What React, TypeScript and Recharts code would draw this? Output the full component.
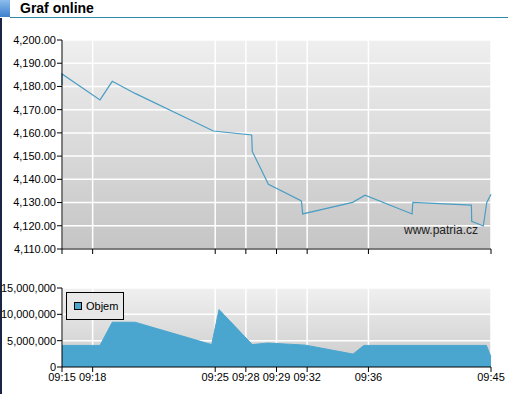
import React from "react";
import {
  ComposedChart,
  Line,
  Area,
  XAxis,
  YAxis,
  CartesianGrid,
} from "recharts";

// x is a slot index along the time axis (ticks are not evenly spaced in minutes)
const tickSlots = [0, 2, 10, 12, 14, 16, 20, 28];
const tickLabels = ["09:15", "09:18", "09:25", "09:28", "09:29", "09:32", "09:36", "09:45"];

const priceSlots = [0, 0, 2.48, 3.28, 4.77, 9.88, 12.38, 12.42, 13.47, 15.6, 15.64, 15.71, 18.97, 19.78, 22.85, 22.9, 26.72, 26.74, 27.5, 27.72, 28];
const priceValues = [4180.6, 4185.4, 4174.2, 4182.2, 4177.0, 4160.8, 4159.1, 4152.0, 4137.9, 4130.8, 4130.0, 4125.1, 4130.1, 4133.2, 4125.1, 4130.1, 4128.9, 4121.9, 4119.9, 4129.9, 4133.6];
const priceTicks = [4110, 4120, 4130, 4140, 4150, 4160, 4170, 4180, 4190, 4200];

const volumeSlots = [0, 2.48, 3.28, 4.77, 9.77, 10.25, 12.42, 13.43, 15.9, 19.0, 19.7, 27.7, 28];
const volumeValues = [4100000, 4100000, 8500000, 8500000, 4250000, 10900000, 4250000, 4550000, 4150000, 2450000, 4100000, 4100000, 1900000];
const volumeTicks = [0, 5000000, 10000000, 15000000];

const priceData = priceSlots.map((slot, i) => ({ slot, price: priceValues[i] }));
const volumeData = volumeSlots.map((slot, i) => ({ slot, objem: volumeValues[i] }));

const font = "'Liberation Sans', Arial, sans-serif";
const tickStyle = { fontSize: 11, fill: "#000", fontFamily: font };
const labelFor = (v: number) => tickLabels[tickSlots.indexOf(v)] ?? "";

function ObjemLegend() {
  return (
    <div
      style={{
        position: "absolute",
        left: 66,
        top: 292,
        width: 56,
        height: 26,
        border: "1px solid #000",
        background: "#e8e8e8",
        display: "flex",
        alignItems: "center",
        fontFamily: font,
        fontSize: 11,
        color: "#000",
      }}
    >
      <span
        style={{
          width: 6,
          height: 6,
          border: "1px solid #000",
          background: "#4aa6cf",
          marginLeft: 7,
          marginRight: 4,
        }}
      />
      Objem
    </div>
  );
}

export default function App() {
  return (
    <div style={{ position: "absolute", left: 0, top: 0, width: 508, height: 394, background: "#fff", overflow: "hidden" }}>
      {/* header */}
      <div style={{ position: "absolute", left: 0, top: 0, width: 10, height: 17, background: "linear-gradient(#8cbcec, #3d80cf)" }} />
      <div style={{ position: "absolute", left: 10, top: 17, width: 498, height: 1, background: "#2f86a9" }} />
      <div style={{ position: "absolute", left: 0, top: 18, width: 2, height: 376, background: "#1b2444" }} />
      <div style={{ position: "absolute", left: 20, top: 0, fontFamily: font, fontWeight: "bold", fontSize: 14, lineHeight: "17px", color: "#000" }}>
        Graf online
      </div>

      {/* price chart */}
      <div style={{ position: "absolute", left: 0, top: 0 }}>
        <ComposedChart width={508} height={260} data={priceData} margin={{ top: 40, right: 17, bottom: 0, left: 0 }}>
          <defs>
            <linearGradient id="priceBg" x1="0" y1="0" x2="0" y2="1">
              <stop offset="0%" stopColor="#efefef" />
              <stop offset="100%" stopColor="#c5c5c5" />
            </linearGradient>
          </defs>
          <CartesianGrid fill="url(#priceBg)" stroke="#fff" strokeWidth={1.5} />
          <XAxis
            dataKey="slot"
            type="number"
            domain={[0, 28]}
            ticks={tickSlots}
            tickFormatter={() => ""}
            height={11}
            tickSize={5}
            axisLine={{ stroke: "#000" }}
            tickLine={{ stroke: "#000" }}
          />
          <YAxis
            type="number"
            domain={[4110, 4200]}
            ticks={priceTicks}
            width={62}
            tickSize={5}
            tickMargin={1}
            tick={tickStyle}
            axisLine={{ stroke: "#000" }}
            tickLine={{ stroke: "#000" }}
            tickFormatter={(v: number) => v.toLocaleString("en-US", { minimumFractionDigits: 2, maximumFractionDigits: 2 })}
          />
          <Line type="linear" dataKey="price" stroke="#4a9dc3" strokeWidth={1.2} dot={false} isAnimationActive={false} />
        </ComposedChart>
        <div style={{ position: "absolute", left: 404, top: 223, fontFamily: font, fontSize: 12, color: "#222" }}>www.patria.cz</div>
      </div>

      {/* volume chart */}
      <div style={{ position: "absolute", left: 0, top: 260 }}>
        <ComposedChart width={508} height={134} data={volumeData} margin={{ top: 28, right: 17, bottom: 0, left: 0 }}>
          <defs>
            <linearGradient id="volBg" x1="0" y1="0" x2="0" y2="1">
              <stop offset="0%" stopColor="#f0f0f0" />
              <stop offset="100%" stopColor="#cbcbcb" />
            </linearGradient>
          </defs>
          <CartesianGrid fill="url(#volBg)" stroke="#fff" strokeWidth={1.5} />
          <XAxis
            dataKey="slot"
            type="number"
            domain={[0, 28]}
            ticks={tickSlots}
            tickFormatter={labelFor}
            height={27}
            tickSize={5}
            tickMargin={1}
            tick={tickStyle}
            interval={0}
            axisLine={{ stroke: "#000" }}
            tickLine={{ stroke: "#000" }}
          />
          <YAxis
            type="number"
            domain={[0, 15000000]}
            ticks={volumeTicks}
            width={62}
            tickSize={5}
            tickMargin={1}
            tick={tickStyle}
            axisLine={{ stroke: "#000" }}
            tickLine={{ stroke: "#000" }}
            tickFormatter={(v: number) => v.toLocaleString("en-US")}
          />
          <Area type="linear" dataKey="objem" stroke="#4aa6cf" fill="#4aa6cf" fillOpacity={1} isAnimationActive={false} />
        </ComposedChart>
      </div>
      <ObjemLegend />
    </div>
  );
}
